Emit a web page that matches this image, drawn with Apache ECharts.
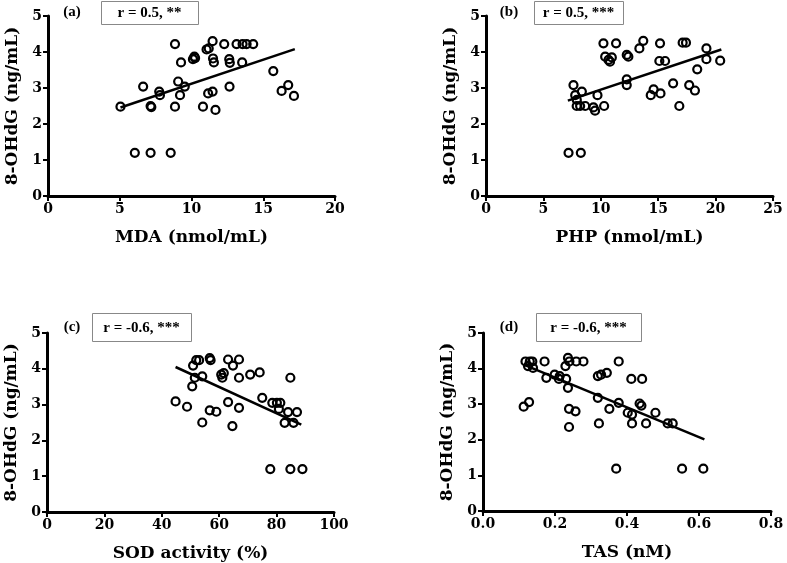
<!DOCTYPE html>
<html>
<head>
<meta charset="utf-8">
<script src="https://cdn.jsdelivr.net/npm/echarts@6/dist/echarts.min.js"></script>
<style>
html,body{margin:0;padding:0;background:#fff;}
#chart{width:787px;height:563px;}
</style>
</head>
<body>
<div id="chart"></div>
<script>
// Panel (a): MDA vs 8-OHdG
var aX = [5.05, 6.05, 7.15, 8.55, 6.63, 7.15, 7.2, 7.75, 7.8, 8.85, 8.85, 9.07, 9.2, 9.27, 9.53, 10.1, 10.2, 10.25, 10.8, 11.05, 11.2, 11.16, 11.47, 11.47, 11.5, 11.56, 11.67, 12.28, 12.65, 12.63, 12.67, 13.14, 13.53, 13.56, 13.84, 14.3, 15.7, 16.28, 16.74, 17.14];
var aY = [2.48, 1.2, 1.2, 1.2, 3.04, 2.5, 2.47, 2.9, 2.8, 4.22, 2.48, 3.18, 2.8, 3.71, 3.04, 3.8, 3.87, 3.83, 2.48, 4.07, 4.1, 2.85, 2.9, 4.3, 3.82, 3.71, 2.39, 4.22, 3.04, 3.8, 3.7, 4.22, 3.71, 4.22, 4.22, 4.22, 3.47, 2.92, 3.08, 2.78];
var aFitX = [5.05, 17.2];
var aFitY = [2.46, 4.08];
// Panel (b): PHP vs 8-OHdG
var bX = [7.19, 8.26, 7.62, 7.77, 7.91, 8.35, 7.9, 8.2, 8.64, 9.36, 9.5, 9.71, 10.29, 10.23, 11.33, 10.38, 10.67, 10.96, 10.8, 12.26, 12.4, 12.26, 12.26, 13.36, 13.7, 15.16, 15.1, 15.6, 14.35, 14.6, 15.2, 16.3, 16.84, 17.13, 17.42, 17.7, 18.2, 18.4, 19.2, 19.2, 20.4];
var bY = [1.2, 1.2, 3.08, 2.8, 2.67, 2.9, 2.5, 2.5, 2.5, 2.46, 2.37, 2.8, 2.5, 4.24, 4.24, 3.87, 3.78, 3.85, 3.73, 3.92, 3.87, 3.24, 3.08, 4.1, 4.31, 4.24, 3.75, 3.75, 2.8, 2.96, 2.85, 3.13, 2.5, 4.26, 4.26, 3.08, 2.93, 3.52, 4.1, 3.8, 3.76];
var bFitX = [7.13, 20.5];
var bFitY = [2.65, 4.07];
// Panel (c): SOD activity vs 8-OHdG
var cX = [44.8, 48.8, 50.9, 52.0, 53.0, 50.6, 51.5, 54.1, 54.1, 56.7, 57.0, 56.7, 59.0, 60.7, 61.1, 61.6, 63.1, 63.1, 64.8, 64.6, 66.9, 66.9, 66.9, 70.8, 74.1, 75.0, 78.5, 80.1, 81.3, 80.8, 84.8, 84.0, 87.1, 82.8, 85.9, 77.8, 84.8, 89.0];
var cY = [3.09, 2.94, 4.09, 4.24, 4.24, 3.51, 3.75, 3.79, 2.5, 4.3, 4.24, 2.84, 2.8, 3.84, 3.75, 3.88, 4.26, 3.07, 4.09, 2.4, 4.26, 3.75, 2.91, 3.84, 3.9, 3.19, 3.05, 3.05, 3.05, 2.88, 3.75, 2.79, 2.79, 2.49, 2.49, 1.2, 1.2, 1.2];
var cFitX = [44.8, 88.6];
var cFitY = [4.05, 2.44];
// Panel (d): TAS vs 8-OHdG
var dX = [0.113, 0.128, 0.118, 0.13, 0.137, 0.125, 0.139, 0.171, 0.176, 0.199, 0.211, 0.213, 0.236, 0.24, 0.259, 0.279, 0.229, 0.231, 0.236, 0.239, 0.257, 0.239, 0.319, 0.322, 0.319, 0.328, 0.344, 0.351, 0.37, 0.377, 0.377, 0.402, 0.414, 0.412, 0.442, 0.414, 0.435, 0.44, 0.453, 0.479, 0.513, 0.527, 0.553, 0.612];
var dY = [2.93, 3.06, 4.2, 4.2, 4.2, 4.07, 4.02, 4.2, 3.74, 3.83, 3.71, 3.79, 4.3, 4.2, 4.2, 4.2, 4.07, 3.71, 3.46, 2.87, 2.8, 2.36, 3.18, 2.46, 3.79, 3.83, 3.88, 2.87, 1.19, 4.2, 3.04, 2.76, 2.71, 3.71, 3.71, 2.46, 3.02, 2.96, 2.46, 2.76, 2.46, 2.46, 1.19, 1.19];
var dFitX = [0.113, 0.615];
var dFitY = [4.11, 2.01];

var xNames = ['MDA (nmol/mL)', 'PHP (nmol/mL)', 'SOD activity (%)', 'TAS (nM)'];
var yName = '8-OHdG (ng/mL)';
var xMax = [20, 25, 100, 0.8];
var xStep = [5, 5, 20, 0.2];
var panelTags = ['(a)', '(b)', '(c)', '(d)'];
var rTexts = ['r = 0.5, **', 'r = 0.5, ***', 'r = -0.6, ***', 'r = -0.6, ***'];

function zip(xs, ys) { return xs.map(function (x, i) { return [x, ys[i]]; }); }

var FONT = 'DejaVu Serif';
var grids = [
  {left: 48, top: 16, width: 287, height: 180},
  {left: 486, top: 16, width: 287, height: 180},
  {left: 47, top: 333, width: 287, height: 179},
  {left: 483, top: 333, width: 288, height: 178}
];
var boxes = [
  {tagX: 72, x: 101, y: 1, w: 97, h: 23},
  {tagX: 509, x: 534, y: 1, w: 89, h: 23},
  {tagX: 72, x: 92, y: 313, w: 99, h: 28},
  {tagX: 509, x: 536, y: 313, w: 105, h: 28}
];

var xAxes = [], yAxes = [], series = [], graphics = [];
for (var i = 0; i < 4; i++) {
  xAxes.push({
    gridIndex: i, type: 'value', min: 0, max: xMax[i], interval: xStep[i],
    name: xNames[i], nameLocation: 'middle', nameGap: 33,
    nameTextStyle: {fontFamily: FONT, fontWeight: 'bold', fontSize: 17, color: '#000'},
    axisLine: {show: true, lineStyle: {color: '#000', width: 3}},
    axisTick: {show: true, length: 5, lineStyle: {color: '#000', width: 2}},
    axisLabel: {fontFamily: FONT, fontWeight: 'bold', fontSize: 14, color: '#000', margin: 6,
      formatter: (i === 3) ? function (v) { return v.toFixed(1); } : null},
    splitLine: {show: false}
  });
  yAxes.push({
    gridIndex: i, type: 'value', min: 0, max: 5, interval: 1,
    name: yName, nameLocation: 'middle', nameGap: 27,
    nameTextStyle: {fontFamily: FONT, fontWeight: 'bold', fontSize: 17, color: '#000'},
    axisLine: {show: true, lineStyle: {color: '#000', width: 3}},
    axisTick: {show: true, length: 5, lineStyle: {color: '#000', width: 2}},
    axisLabel: {fontFamily: FONT, fontWeight: 'bold', fontSize: 14, color: '#000', margin: 6},
    splitLine: {show: false}
  });
}
var pts = [zip(aX, aY), zip(bX, bY), zip(cX, cY), zip(dX, dY)];
var fits = [zip(aFitX, aFitY), zip(bFitX, bFitY), zip(cFitX, cFitY), zip(dFitX, dFitY)];
for (var k = 0; k < 4; k++) {
  series.push({
    type: 'line', xAxisIndex: k, yAxisIndex: k, data: fits[k], showSymbol: false, symbol: 'none',
    lineStyle: {color: '#000', width: 2.5}, z: 3, silent: true, animation: false
  });
  series.push({
    type: 'scatter', xAxisIndex: k, yAxisIndex: k, data: pts[k], symbol: 'circle', symbolSize: 8,
    itemStyle: {color: 'rgba(255,255,255,0)', borderColor: '#000', borderWidth: 2.2, opacity: 1},
    z: 4, animation: false
  });
  var b = boxes[k];
  graphics.push({
    type: 'text', x: b.tagX, y: b.y + b.h / 2,
    style: {text: panelTags[k], font: 'bold 15px "Liberation Serif"', fill: '#000', align: 'center', verticalAlign: 'middle'}
  });
  graphics.push({
    type: 'rect', shape: {x: b.x + 0.5, y: b.y + 0.5, width: b.w, height: b.h},
    style: {fill: '#fff', stroke: '#888', lineWidth: 1}
  });
  graphics.push({
    type: 'text', x: b.x + b.w / 2, y: b.y + b.h / 2 + 1,
    style: {text: rTexts[k], font: 'bold 15px "Liberation Serif"', fill: '#000', align: 'center', verticalAlign: 'middle'}
  });
}

var chart = echarts.init(document.getElementById('chart'));
chart.setOption({
  backgroundColor: '#fff',
  animation: false,
  grid: grids,
  xAxis: xAxes,
  yAxis: yAxes,
  series: series,
  graphic: graphics
});
</script>
</body>
</html>
